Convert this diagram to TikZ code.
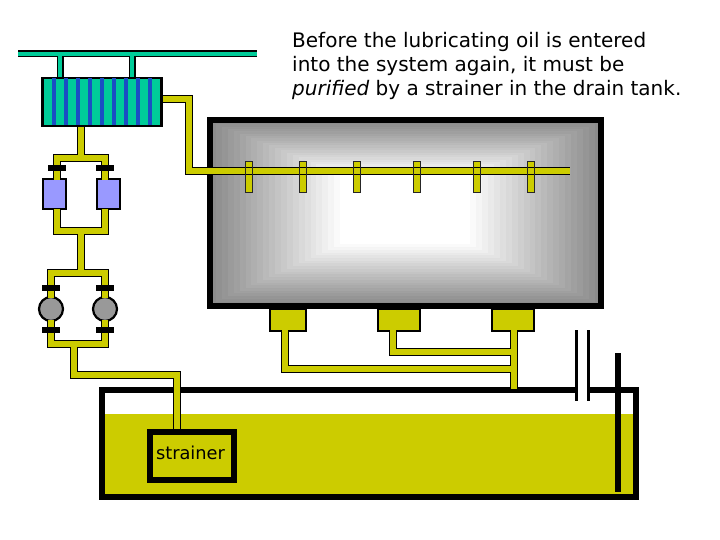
\documentclass[tikz,border=0pt]{standalone}
\usepackage{fontspec}
\setmainfont{DejaVu Sans}
\definecolor{oil}{HTML}{CCCC00}
\definecolor{coolant}{HTML}{00CC99}
\definecolor{tube}{HTML}{1A4FC4}
\definecolor{filterblue}{HTML}{9999FF}
\definecolor{pumpgrey}{HTML}{999999}
\tikzset{
  pipeout/.style={draw=black,line width=7.4pt,line join=miter},
  pipein/.style={draw=oil,line width=5.2pt,line join=miter},
  pipelayer/.style={pipeout},
  coolout/.style={draw=black,line width=7pt},
  coolin/.style={draw=coolant,line width=4.6pt},
  tubeline/.style={draw=tube,line width=3.4pt},
  clampbar/.style={draw=none,fill=black,minimum width=18pt,minimum height=5.5pt,inner sep=0pt},
  filterbox/.style={draw=black,line width=2pt,fill=filterblue,minimum width=23pt,minimum height=30pt,inner sep=0pt},
  pumpdisc/.style={circle,draw=black,line width=2.2pt,fill=pumpgrey,minimum size=24pt,inner sep=0pt},
  sumpbox/.style={draw=black,line width=1.6pt,fill=oil,inner sep=0pt},
  stubbox/.style={fill=oil,minimum width=6pt,minimum height=30pt,inner sep=0pt},
  stubframe/.style={draw=black!85,line width=1.3pt},
  wallline/.style={draw=black,line width=5.6pt,line join=miter},
  ventline/.style={draw=black,line width=3pt},
}
% Every pipe run of the lubricating circuit, drawn once per layer so that tees stay open
\newcommand{\oilruns}{%
  \draw[pipelayer] (coolerout) -- (t1) -- (t2) -- (galleryend);
  \draw[pipelayer] (coolerin) -- (t3);
  \draw[pipelayer] (f1top) -- (f1top |- t3) -- (f2top |- t3) -- (f2top);
  \draw[pipelayer] (f1bot) -- (f1bot |- t4) -- (f2bot |- t4) -- (f2bot);
  \draw[pipelayer] (t4) -- (t5);
  \draw[pipelayer] (p1top) -- (p1top |- t5) -- (p2top |- t5) -- (p2top);
  \draw[pipelayer] (p1bot) -- (p1bot |- t6) -- (p2bot |- t6) -- (p2bot);
  \draw[pipelayer] (t6) -- (t7) -- (t8) -- (t8 |- strainer.north);
  \draw[pipelayer] (s1out) -- (t9) -- (t10);
  \draw[pipelayer] (s2out) -- (t11) -- (t12);
  \draw[pipelayer] (s3out) -- (drainend);
}
\begin{document}
\begin{tikzpicture}[x=1pt,y=-1pt]
\useasboundingbox (0,0) rectangle (720,540);
\fill[white] (0,0) rectangle (720,540);

% crankcase with stepped grey shading towards a white centre
\fill[black] (207,117) rectangle (604,309);
\foreach \k in {0,...,44}{
  \pgfmathsetmacro{\tx}{\k/44}
  \pgfmathsetmacro{\lev}{min(100,55+45*pow(\tx,1.05)+1.2*mod(\k,2))}
  \pgfmathsetmacro{\xl}{213+\tx*130}
  \pgfmathsetmacro{\xr}{598-\tx*131}
  \pgfmathsetmacro{\yt}{123+\tx*52}
  \pgfmathsetmacro{\yb}{303-\tx*60}
  \fill[black!\fpeval{100-\lev}] (\xl,\yt) rectangle (\xr,\yb);
}

% drain tank with its oil, wall open at the vent
\fill[oil] (105,414) rectangle (633,494);
\draw[wallline] (576,389.8) -- (101.8,389.8) -- (101.8,497) -- (636,497) -- (636,389.8) -- (588,389.8);
\draw[ventline] (576,330) -- (576,401);
\draw[ventline] (588,330) -- (588,401);
\draw[draw=black,line width=5.5pt] (618,353) -- (618,492);

% strainer, sumps, filters and pumps
\node[draw=black,line width=6pt,fill=oil,minimum width=84pt,minimum height=48pt,inner sep=0pt] (strainer) at (192,456) {};
\node[inner sep=0pt,font=\fontsize{17.8}{20}\selectfont] (strainerlabel) at (190.5,453) {strainer};
\node[sumpbox,minimum width=36pt,minimum height=22pt] (sump1) at (288,320) {};
\node[sumpbox,minimum width=42pt,minimum height=22pt] (sump2) at (399,320) {};
\node[sumpbox,minimum width=42pt,minimum height=22pt] (sump3) at (513,320) {};
\node[filterbox] (filter1) at (54,194.5) {};
\node[filterbox] (filter2) at (108,194.5) {};
\node[pumpdisc] (pump1) at (51,309) {};
\node[pumpdisc] (pump2) at (105,309) {};

% pipe end points and corners
\coordinate (coolerout) at (162,99);
\coordinate (t1) at (189,99);
\coordinate (t2) at (189,171);
\coordinate (galleryend) at (570,171);
\coordinate (coolerin) at (81,127);
\coordinate (t3) at (81,158);
\coordinate (f1top) at (57,180);
\coordinate (f2top) at (105,180);
\coordinate (f1bot) at (57,209);
\coordinate (f2bot) at (105,209);
\coordinate (t4) at (81,231);
\coordinate (t5) at (81,273);
\coordinate (p1top) at (51,298);
\coordinate (p2top) at (105,298);
\coordinate (p1bot) at (51,320);
\coordinate (p2bot) at (105,320);
\coordinate (t6) at (74,344);
\coordinate (t7) at (74,375);
\coordinate (t8) at (177,375);
\coordinate (s1out) at (285,330);
\coordinate (t9) at (285,369);
\coordinate (t10) at (514,369);
\coordinate (s2out) at (393,330);
\coordinate (t11) at (393,352);
\coordinate (t12) at (514,352);
\coordinate (s3out) at (514,330);
\coordinate (drainend) at (514,389);

% spray stubs sit behind the gallery line, their outline in front
\foreach \i/\x in {1/249,2/303,3/357,4/417,5/477,6/531}
  \node[stubbox] (stub\i) at (\x,177) {};

\oilruns
\tikzset{pipelayer/.style={pipein}}
\oilruns

\foreach \i in {1,...,6}
  \draw[stubframe] (stub\i.north west) rectangle (stub\i.south east);

% flange bars across the filter and pump branches
\node[clampbar] (clampa) at (57,168) {};
\node[clampbar] (clampb) at (105,168) {};
\node[clampbar] (clampc) at (51,288) {};
\node[clampbar] (clampd) at (105,288) {};
\node[clampbar] (clampe) at (51,330) {};
\node[clampbar] (clampf) at (105,330) {};

% cooler, coolant header and tubes
\node[draw=black,line width=2.8pt,fill=coolant,minimum width=119pt,minimum height=48pt,inner sep=0pt] (cooler) at (102,102) {};
\foreach \x in {54,66,...,150}
  \draw[tubeline] (\x,78.5) -- (\x,125.5);
\coordinate (headl) at (18,54);
\coordinate (headr) at (257,54);
\coordinate (bra) at (60,54);
\coordinate (brb) at (132,54);
\foreach \lay in {coolout,coolin}{
  \draw[\lay] (headl) -- (headr);
  \draw[\lay] (bra) -- (bra |- cooler.north);
  \draw[\lay] (brb) -- (brb |- cooler.north);
}

\node[anchor=north west,align=left,inner sep=0pt,font=\fontsize{20}{24}\selectfont] (note) at (292,32)
  {Before the lubricating oil is entered\\into the system again, it must be\\\textit{purified} by a strainer in the drain tank.};
\end{tikzpicture}
\end{document}
